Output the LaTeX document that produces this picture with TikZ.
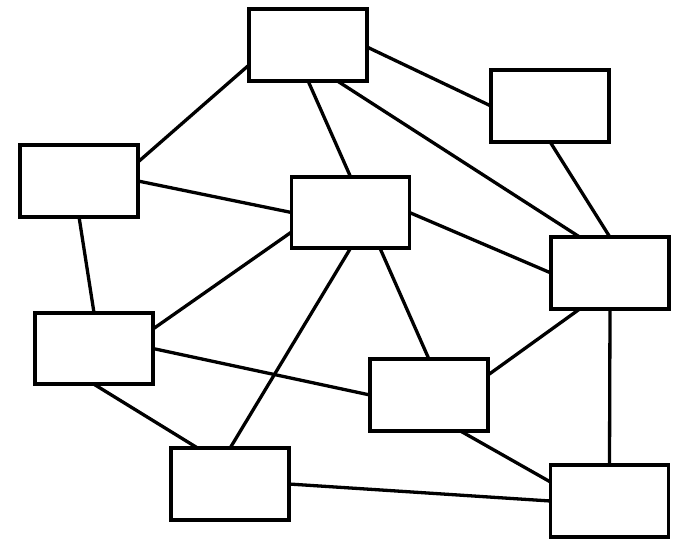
\documentclass[tikz,border=0pt]{standalone}
\usetikzlibrary{backgrounds}
\begin{document}
\begin{tikzpicture}[x=1pt,y=-1pt,
  box/.style={draw=black,line width=3.8pt,minimum width=118pt,minimum height=71.5pt,inner sep=0pt,outer sep=0pt,fill=white},
  link/.style={draw=black,line width=3.3pt}]
\useasboundingbox (0,0) rectangle (674,542);
\node[box] (n1) at (308,45) {};
\node[box] (n2) at (550,106) {};
\node[box] (n3) at (79,181) {};
\node[box] (n4) at (350.5,212.5) {};
\node[box] (n5) at (610,273) {};
\node[box] (n6) at (94,348.5) {};
\node[box] (n7) at (429,395) {};
\node[box] (n8) at (230,484) {};
\node[box] (n9) at (609.5,501) {};
\begin{scope}[on background layer]
\draw[link] ([yshift=-20pt]n1.west) -- ([yshift=19pt]n3.east);
\draw[link] ([yshift=-2pt]n1.east) -- (n2.west);
\draw[link] (n1.south) -- (n4.north);
\draw[link] ([xshift=29pt]n1.south) -- ([xshift=-30pt]n5.north);
\draw[link] (n2.south) -- (n5.north);
\draw[link] (n3.east) -- (n4.west);
\draw[link] (n3.south) -- (n6.north);
\draw[link] (n4.east) -- (n5.west);
\draw[link] ([yshift=-19.5pt]n4.west) -- ([yshift=19.5pt]n6.east);
\draw[link] ([xshift=29.5pt]n4.south) -- (n7.north);
\draw[link] (n4.south) -- (n8.north);
\draw[link] ([xshift=-30pt]n5.south) -- ([yshift=20pt]n7.east);
\draw[link] (n5.south) -- (n9.north);
\draw[link] (n6.east) -- (n7.west);
\draw[link] (n6.south) -- ([xshift=-32pt]n8.north);
\draw[link] ([xshift=31pt]n7.south) -- ([yshift=19pt]n9.west);
\draw[link] (n8.east) -- (n9.west);
\end{scope}
\end{tikzpicture}
\end{document}
